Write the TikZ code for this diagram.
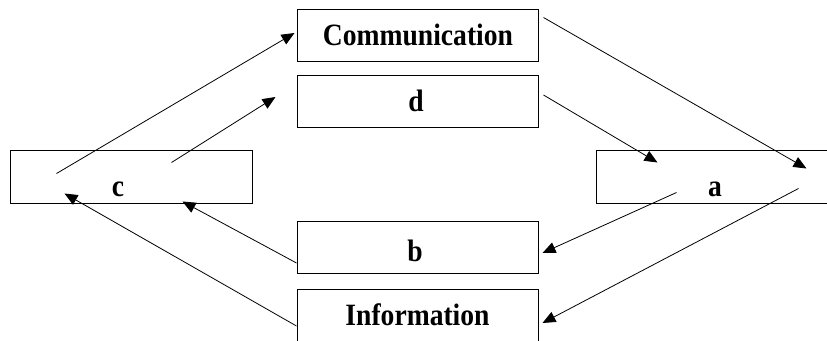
\documentclass[tikz,border=0pt]{standalone}
\usepackage{fontspec}
\newfontfamily\boxfont{Liberation Serif}[FakeStretch=0.89]
\usetikzlibrary{arrows.meta,calc}

\begin{document}
\begin{tikzpicture}[x=1pt,y=-1pt,
  box/.style={draw,line width=1pt,minimum width=241pt,minimum height=52pt,inner sep=0pt},
  lbl/.style={anchor=base,inner sep=0pt,font=\boxfont\fontsize{31}{36}\selectfont\bfseries},
  arr/.style={-{Triangle[length=13pt,width=11pt]},line width=0.8pt}]
\useasboundingbox (0,0) rectangle (827,340);
% ---------- middle column ----------
\node[box] (comm) at (417.5,35) {};
\node[box] (d) at (417.5,101) {};
\node[box] (b) at (417.5,247.5) {};
\node[box] (info) at (417.5,315) {};
\node[lbl] (commtxt) at (418,45) {Communication};
\node[lbl] (dtxt) at (416,111) {d};
\node[lbl] (btxt) at (415,261) {b};
\node[lbl] (infotxt) at (417.5,325) {Information};
% ---------- side boxes ----------
\node[box,minimum width=242pt,minimum height=53pt] (c) at (131,176.5) {};
\node[box,minimum width=242pt,minimum height=53pt] (a) at (717,176.5) {};
\node[lbl] (ctxt) at (118,196) {c};
\node[lbl] (atxt) at (715,196) {a};
% ---------- arrows ----------
\draw[arr] ($(c.north west)+(47,24)$) -- ($(comm.west)+(-2,-2)$);
\draw[arr] ($(c.north west)+(162,13)$) -- ($(d.west)+(-21,-4)$);
\draw[arr] ($(comm.north east)+(5,9)$) -- ($(a.north west)+(211,19)$);
\draw[arr] ($(d.east)+(5,-6)$) -- ($(a.north west)+(62,13)$);
\draw[arr] ($(a.north west)+(81,43)$) -- ($(b.east)+(4,5.5)$);
\draw[arr] ($(a.north west)+(203,39)$) -- ($(info.east)+(4,8)$);
\draw[arr] ($(b.west)+(0,15.5)$) -- ($(c.south west)+(173,-2)$);
\draw[arr] ($(info.west)+(0,11)$) -- ($(c.south west)+(55,-10)$);
\end{tikzpicture}
\end{document}
